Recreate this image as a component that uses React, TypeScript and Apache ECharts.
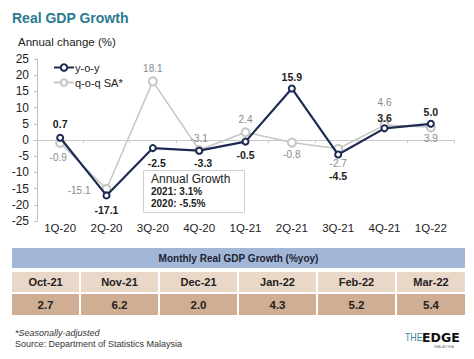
import React, { useEffect, useRef } from "react";
import * as echarts from "echarts";

const quarters = ["1Q-20", "2Q-20", "3Q-20", "4Q-20", "1Q-21", "2Q-21", "3Q-21", "4Q-21", "1Q-22"];
const yoy = [0.7, -17.1, -2.5, -3.3, -0.5, 15.9, -4.5, 3.6, 5.0];
const qoq = [-0.9, -15.1, 18.1, -3.1, 2.4, -0.8, -2.7, 4.6, 3.9];
const yMin = -25;
const yMax = 25;
const yStep = 5;

const months = ["Oct-21", "Nov-21", "Dec-21", "Jan-22", "Feb-22", "Mar-22"];
const monthlyYoy = [2.7, 6.2, 2.0, 4.3, 5.2, 5.4];

const annualYears = ["2021", "2020"];
const annualValues = [3.1, -5.5];

// label styling (positions / offsets per point)
const yoyLabelPos = ["top", "bottom", "bottom", "bottom", "bottom", "top", "bottom", "top", "top"];
const yoyLabelOff = [[0, 1], [0, 0], [4, 0], [4, -2], [0, -1], [0, 3], [0, 7], [0, 4], [0, 3]];
const qoqLabelPos = ["bottom", "left", "top", "top", "top", "bottom", "bottom", "top", "bottom"];
const qoqLabelOff = [[-2, 0], [-6, 2], [0, 2], [0, 3], [0, 2], [0, -3], [0, 0], [0, -8], [0, -4]];

const FONT = '"Liberation Sans", Arial, Helvetica, sans-serif';
const NAVY = "#1d2a52";
const GRAY = "#c6c6c6";
const colEdges = [12, 80, 159, 238, 317, 396, 465];

export default function App() {
  const ref = useRef<HTMLDivElement>(null);
  useEffect(() => {
    document.body.style.margin = "0";
    const chart = echarts.init(ref.current!, null, { renderer: "svg" });

    const tableGraphics: any[] = [];
    tableGraphics.push({
      type: "rect",
      shape: { x: colEdges[0], y: 248, width: colEdges[6] - colEdges[0], height: 20 },
      style: { fill: "#a2b7d8" },
    });
    tableGraphics.push({
      type: "text",
      x: (colEdges[0] + colEdges[6]) / 2,
      y: 258,
      style: {
        text: "Monthly Real GDP Growth (%yoy)",
        fontFamily: FONT,
        fontSize: 10,
        fontWeight: "bold",
        fill: "#1f2430",
        align: "center",
        verticalAlign: "middle",
      },
    });
    months.forEach((m, i) => {
      const x0 = colEdges[i] + (i > 0 ? 1 : 0);
      const x1 = colEdges[i + 1] - (i < months.length - 1 ? 1 : 0);
      tableGraphics.push({
        type: "rect",
        shape: { x: x0, y: 272, width: x1 - x0, height: 20 },
        style: { fill: "#e9d7c7" },
      });
      tableGraphics.push({
        type: "rect",
        shape: { x: x0, y: 294, width: x1 - x0, height: 21 },
        style: { fill: "#cfae93" },
      });
      tableGraphics.push({
        type: "text",
        x: (x0 + x1) / 2,
        y: 282,
        style: {
          text: m,
          fontFamily: FONT,
          fontSize: 11,
          fontWeight: "bold",
          fill: "#222",
          align: "center",
          verticalAlign: "middle",
        },
      });
      tableGraphics.push({
        type: "text",
        x: (x0 + x1) / 2,
        y: 304.5,
        style: {
          text: monthlyYoy[i].toFixed(1),
          fontFamily: FONT,
          fontSize: 11.5,
          fontWeight: "bold",
          fill: "#222",
          align: "center",
          verticalAlign: "middle",
        },
      });
    });

    const annualTexts = annualYears.map((y, i) => ({
      type: "text",
      x: 151,
      y: 191 + i * 12,
      z: 101,
      style: {
        text: `${y}: ${annualValues[i].toFixed(1)}%`,
        fontFamily: FONT,
        fontSize: 10,
        fontWeight: "bold",
        fill: "#222",
        align: "left",
        verticalAlign: "middle",
      },
    }));

    const option: any = {
      animation: false,
      title: {
        text: "Real GDP Growth",
        left: 12,
        top: 11,
        padding: 0,
        textStyle: { fontFamily: FONT, fontSize: 14, fontWeight: "bold", color: "#2c7a8f" },
      },
      legend: {
        orient: "vertical",
        left: 48,
        top: 57,
        itemWidth: 20,
        itemHeight: 8,
        itemGap: 4,
        data: ["y-o-y", "q-o-q SA*"],
        textStyle: { fontFamily: FONT, fontSize: 11, color: "#222", padding: [0, 0, 0, -4] },
      },
      grid: { left: 37, top: 59, width: 417, height: 162 },
      xAxis: [
        {
          type: "category",
          data: quarters,
          position: "bottom",
          axisLine: { show: false, onZero: false },
          axisTick: { show: false },
          axisLabel: { fontFamily: FONT, fontSize: 11.5, color: "#222", margin: 1 },
        },
        {
          type: "category",
          data: quarters,
          position: "bottom",
          axisLine: { show: true, onZero: true, lineStyle: { color: "#c8c8c8", width: 1 } },
          axisTick: { show: true, length: 3, lineStyle: { color: "#c8c8c8" } },
          axisLabel: { show: false },
        },
      ],
      yAxis: {
        type: "value",
        min: yMin,
        max: yMax,
        interval: yStep,
        axisLine: { show: true, lineStyle: { color: "#bdbdbd" } },
        axisTick: { show: true, length: 3, lineStyle: { color: "#bdbdbd" } },
        splitLine: { show: false },
        axisLabel: { fontFamily: FONT, fontSize: 12, color: "#222", margin: 8 },
      },
      series: [
        {
          name: "q-o-q SA*",
          type: "line",
          z: 2,
          data: qoq.map((v, i) => ({
            value: v,
            label: { position: qoqLabelPos[i], offset: qoqLabelOff[i] },
          })),
          color: GRAY,
          lineStyle: { color: GRAY, width: 1.5 },
          symbol: "emptyCircle",
          symbolSize: 8,
          itemStyle: { color: GRAY, borderColor: GRAY, borderWidth: 1.5 },
          label: {
            show: true,
            fontFamily: FONT,
            fontSize: 10,
            color: "#8a8a8a",
            formatter: (p: any) => Number(p.value).toFixed(1),
          },
        },
        {
          name: "y-o-y",
          type: "line",
          z: 3,
          data: yoy.map((v, i) => ({
            value: v,
            label: { position: yoyLabelPos[i], offset: yoyLabelOff[i] },
          })),
          color: NAVY,
          lineStyle: { color: NAVY, width: 2.2 },
          symbol: "emptyCircle",
          symbolSize: 6,
          itemStyle: { color: NAVY, borderColor: NAVY, borderWidth: 1.6 },
          label: {
            show: true,
            fontFamily: FONT,
            fontSize: 10.5,
            fontWeight: "bold",
            color: "#222",
            formatter: (p: any) => Number(p.value).toFixed(1),
          },
        },
      ],
      graphic: [
        {
          type: "text",
          x: 18,
          y: 42,
          style: {
            text: "Annual change (%)",
            fontFamily: FONT,
            fontSize: 11.5,
            fill: "#222",
            align: "left",
            verticalAlign: "middle",
          },
        },
        {
          type: "rect",
          z: 100,
          shape: { x: 143.5, y: 170.5, width: 101, height: 42 },
          style: { fill: "#fff", stroke: "#cfcfcf", lineWidth: 1 },
        },
        {
          type: "text",
          x: 151,
          y: 179,
          z: 101,
          style: {
            text: "Annual Growth",
            fontFamily: FONT,
            fontSize: 12,
            fill: "#222",
            align: "left",
            verticalAlign: "middle",
          },
        },
        ...annualTexts,
        ...tableGraphics,
        {
          type: "text",
          x: 15,
          y: 333,
          style: {
            text: "*Seasonally-adjusted",
            fontFamily: FONT,
            fontSize: 9,
            fontStyle: "italic",
            fill: "#333",
            align: "left",
            verticalAlign: "middle",
          },
        },
        {
          type: "text",
          x: 15,
          y: 344,
          style: {
            text: "Source: Department of Statistics Malaysia",
            fontFamily: FONT,
            fontSize: 9,
            fill: "#333",
            align: "left",
            verticalAlign: "middle",
          },
        },
        {
          type: "text",
          x: 405,
          y: 337,
          scaleX: 0.8,
          style: {
            text: "THE",
            fontFamily: FONT,
            fontSize: 11,
            fill: "#3d8796",
            align: "left",
            verticalAlign: "middle",
          },
        },
        {
          type: "text",
          x: 422,
          y: 337,
          style: {
            text: "EDGE",
            fontFamily: '"DejaVu Sans", sans-serif',
            fontSize: 12.5,
            fontWeight: "bold",
            fill: "#111",
            align: "left",
            verticalAlign: "middle",
          },
        },
        {
          type: "text",
          x: 444,
          y: 346,
          style: {
            text: "MALAYSIA",
            fontFamily: FONT,
            fontSize: 4,
            fill: "#777",
            align: "center",
            verticalAlign: "middle",
          },
        },
      ],
    };
    chart.setOption(option);
    return () => chart.dispose();
  }, []);
  return <div ref={ref} style={{ width: 474, height: 359, background: "#fff" }} />;
}
